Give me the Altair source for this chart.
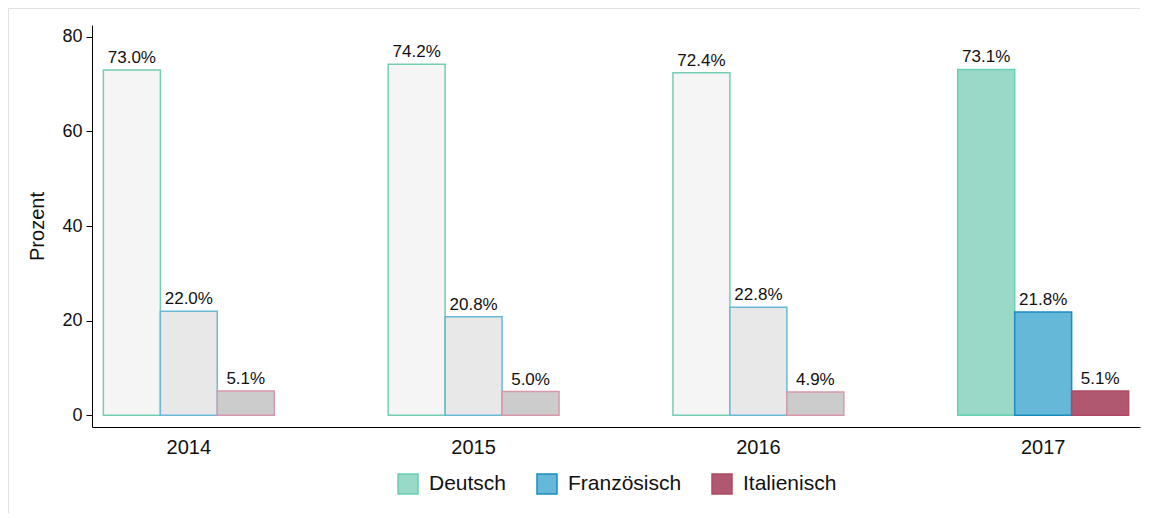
import altair as alt
import pandas as pd

years = ["2014", "2015", "2016", "2017"]
languages = ["Deutsch", "Französisch", "Italienisch"]
deutsch = [73.0, 74.2, 72.4, 73.1]
franz = [22.0, 20.8, 22.8, 21.8]
ital = [5.1, 5.0, 4.9, 5.1]

full_fill = ["#9ad9c8", "#66b8d8", "#b05870"]
full_stroke = ["#66d0b4", "#1a8cc0", "#b04862"]
grey_fill = ["#f5f5f5", "#e8e8e8", "#cccccc"]
grey_stroke = ["#72cdb4", "#6ab8d8", "#d898aa"]

rows = []
for i, y in enumerate(years):
    for lang, vals in zip(languages, [deutsch, franz, ital]):
        rows.append({"Jahr": y, "Sprache": lang, "Wert": vals[i]})
df = pd.DataFrame(rows)

FONT = "Liberation Sans"

x_enc = alt.X("Jahr:N", sort=years, title=None,
              scale=alt.Scale(paddingInner=0.4, paddingOuter=0.04),
              axis=alt.Axis(labelAngle=0, labelFontSize=20, ticks=False,
                            labelPadding=10, domainColor="#000", labelColor="#111"))
xo_enc = alt.XOffset("Sprache:N", sort=languages,
                     scale=alt.Scale(paddingInner=0, paddingOuter=0))
y_enc = alt.Y("Wert:Q", title="Prozent",
              scale=alt.Scale(domain=[-2.5, 82.5], nice=False, zero=False),
              axis=alt.Axis(values=[0, 20, 40, 60, 80], labelFontSize=18,
                            titleFontSize=20, titleFontWeight="normal",
                            titlePadding=14, grid=False, domainColor="#000",
                            tickColor="#000", tickSize=6, labelColor="#111",
                            titleColor="#111", labelPadding=4))

legend_cfg = dict(title=None, orient="none", legendX=305, legendY=448,
                  direction="horizontal", symbolType="square", symbolSize=400,
                  symbolStrokeWidth=1.5, labelFontSize=21, labelColor="#111",
                  labelOffset=10, columnPadding=27, padding=0, labelFont=FONT)

base = alt.Chart(df)

bars_hi = base.transform_filter(alt.datum.Jahr == "2017").mark_bar(strokeWidth=1.5).encode(
    x=x_enc, xOffset=xo_enc, y=y_enc, y2=alt.datum(0),
    fill=alt.Fill("Sprache:N", sort=languages,
                  scale=alt.Scale(domain=languages, range=full_fill),
                  legend=alt.Legend(**legend_cfg)),
    stroke=alt.Stroke("Sprache:N", sort=languages,
                      scale=alt.Scale(domain=languages, range=full_stroke),
                      legend=alt.Legend(**legend_cfg)),
)

bars_lo = base.transform_filter(alt.datum.Jahr != "2017").mark_bar(strokeWidth=1.5).encode(
    x=x_enc, xOffset=xo_enc, y=y_enc, y2=alt.datum(0),
    fill=alt.Fill("Sprache:N", sort=languages,
                  scale=alt.Scale(domain=languages, range=grey_fill), legend=None),
    stroke=alt.Stroke("Sprache:N", sort=languages,
                      scale=alt.Scale(domain=languages, range=grey_stroke), legend=None),
)

labels = base.transform_calculate(
    label="format(datum.Wert, '.1f') + '%'"
).mark_text(fontSize=17, baseline="alphabetic", dy=-7, color="#111", font=FONT).encode(
    x=x_enc, xOffset=xo_enc, y=y_enc, text="label:N"
)

border_data = alt.InlineData(values=[{"k": 1}])
border_v = alt.Chart(border_data).mark_rule(color="#e2e2e2", strokeWidth=1).encode(
    x=alt.value(-83.5), y=alt.value(-16.5), y2=alt.value(488)
)
border_h = alt.Chart(border_data).mark_rule(color="#e2e2e2", strokeWidth=1).encode(
    x=alt.value(-83.5), x2=alt.value(1048), y=alt.value(-16.5)
)

chart = alt.layer(bars_lo, bars_hi, labels, border_v, border_h).resolve_scale(
    fill="independent", stroke="independent"
).properties(
    width=1048, height=402, padding=0
).configure(
    font=FONT
).configure_view(
    stroke="transparent", strokeWidth=0
).configure_axis(labelFont=FONT, titleFont=FONT)

chart.save("out.html", embed_options={"renderer": "svg", "actions": False})
